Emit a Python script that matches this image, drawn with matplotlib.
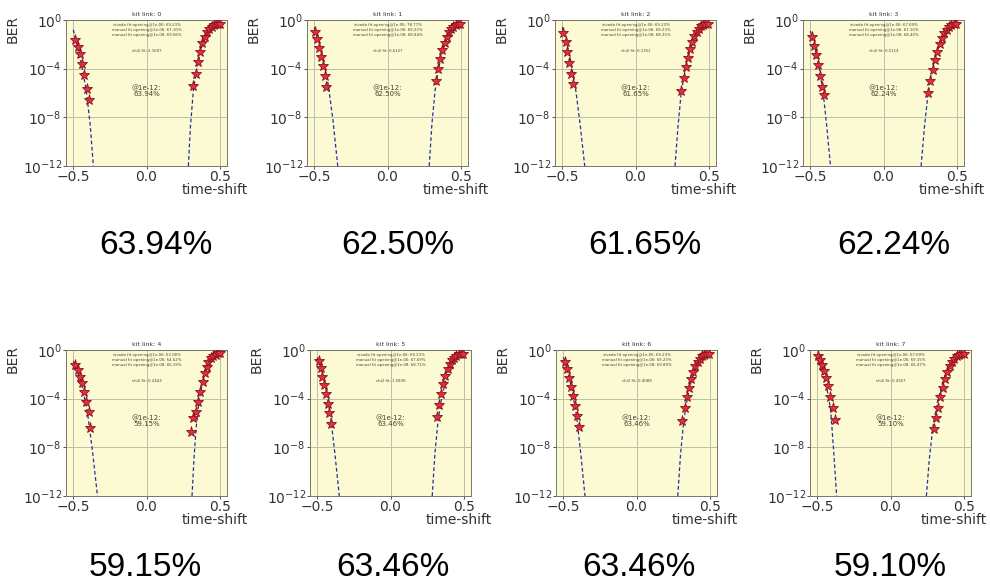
import numpy as np
import matplotlib
matplotlib.use("Agg")
import matplotlib.pyplot as plt

# ---------------- data ----------------
links = [0, 1, 2, 3, 4, 5, 6, 7]
big_labels = ["63.94%", "62.50%", "61.65%", "62.24%", "59.15%", "63.46%", "63.46%", "59.10%"]
open_1e12 = ["63.94%", "62.50%", "61.65%", "62.24%", "59.15%", "63.46%", "63.46%", "59.10%"]
vivado_1e6 = ["69.23%", "78.77%", "69.23%", "67.69%", "63.08%", "69.23%", "69.23%", "67.69%"]
manual_1e6 = ["67.10%", "69.22%", "69.23%", "67.10%", "64.62%", "67.69%", "69.23%", "69.15%"]
manual_1e8 = ["69.66%", "68.84%", "68.35%", "68.40%", "66.19%", "68.71%", "69.89%", "66.47%"]
chi2_fit = ["2.1697", "0.6127", "0.1351", "0.5114", "0.2443", "1.5836", "0.4089", "0.4357"]

# measured points, left edge (x, log10 BER)
left_x = [
    [-0.487, -0.469, -0.454, -0.440, -0.424, -0.408, -0.392],
    [-0.495, -0.482, -0.470, -0.456, -0.443, -0.430, -0.418],
    [-0.492, -0.478, -0.465, -0.451, -0.438, -0.424],
    [-0.487, -0.474, -0.460, -0.446, -0.432, -0.418, -0.405],
    [-0.491, -0.468, -0.455, -0.444, -0.428, -0.410, -0.396, -0.383],
    [-0.490, -0.478, -0.466, -0.454, -0.442, -0.430, -0.418, -0.406],
    [-0.488, -0.474, -0.460, -0.446, -0.432, -0.418, -0.404, -0.390],
    [-0.495, -0.482, -0.468, -0.455, -0.440, -0.425, -0.410, -0.395, -0.380],
]
left_lg = [
    [-1.65, -2.2, -2.8, -3.6, -4.5, -5.7, -6.6],
    [-1.0, -1.6, -2.3, -3.0, -3.8, -4.6, -5.5],
    [-1.1, -1.8, -2.6, -3.5, -4.4, -5.3],
    [-1.4, -2.1, -2.9, -3.7, -4.6, -5.5, -6.2],
    [-1.24, -1.65, -2.2, -2.75, -3.43, -4.26, -5.08, -6.45],
    [-0.9, -1.5, -2.2, -2.9, -3.6, -4.4, -5.2, -6.1],
    [-1.0, -1.6, -2.3, -3.0, -3.8, -4.6, -5.4, -6.3],
    [-0.49, -0.86, -1.24, -1.73, -2.3, -2.96, -3.88, -4.75, -5.76],
]
# measured points, right edge (x, log10 BER)
right_x = [
    [0.317, 0.337, 0.352, 0.367, 0.382, 0.398, 0.414, 0.430, 0.445, 0.460, 0.475, 0.490, 0.500],
    [0.330, 0.345, 0.360, 0.375, 0.390, 0.405, 0.420, 0.435, 0.450, 0.465, 0.480, 0.495],
    [0.312, 0.328, 0.343, 0.358, 0.373, 0.388, 0.403, 0.418, 0.433, 0.448, 0.463, 0.478, 0.493],
    [0.305, 0.320, 0.336, 0.352, 0.368, 0.384, 0.400, 0.416, 0.432, 0.448, 0.464, 0.480, 0.496],
    [0.304, 0.320, 0.338, 0.354, 0.367, 0.383, 0.400, 0.410, 0.423, 0.440, 0.455, 0.473, 0.489, 0.500],
    [0.315, 0.330, 0.345, 0.360, 0.375, 0.390, 0.405, 0.420, 0.435, 0.450, 0.465, 0.480, 0.495],
    [0.312, 0.328, 0.343, 0.358, 0.373, 0.388, 0.403, 0.418, 0.433, 0.448, 0.463, 0.478, 0.493],
    [0.298, 0.312, 0.326, 0.340, 0.356, 0.372, 0.388, 0.404, 0.420, 0.436, 0.452, 0.468, 0.484, 0.500],
]
right_lg = [
    [-5.45, -4.45, -3.45, -2.6, -1.9, -1.4, -1.0, -0.75, -0.55, -0.42, -0.33, -0.3, -0.3],
    [-5.0, -4.0, -3.2, -2.5, -1.9, -1.4, -1.0, -0.75, -0.55, -0.42, -0.34, -0.3],
    [-5.8, -4.8, -3.9, -3.1, -2.4, -1.8, -1.3, -0.95, -0.7, -0.5, -0.38, -0.32, -0.3],
    [-6.0, -5.0, -4.1, -3.3, -2.6, -2.0, -1.5, -1.1, -0.8, -0.58, -0.43, -0.34, -0.3],
    [-6.73, -5.63, -5.08, -4.26, -3.43, -2.6, -1.92, -1.37, -0.96, -0.69, -0.5, -0.41, -0.27, -0.27],
    [-5.5, -4.5, -3.6, -2.8, -2.1, -1.6, -1.15, -0.85, -0.62, -0.46, -0.36, -0.31, -0.3],
    [-5.8, -4.8, -3.9, -3.1, -2.4, -1.8, -1.3, -0.95, -0.7, -0.5, -0.38, -0.32, -0.3],
    [-6.53, -5.6, -4.75, -3.9, -3.1, -2.4, -1.8, -1.3, -0.95, -0.7, -0.5, -0.38, -0.32, -0.3],
]
# fitted curves (x, log10 BER)
fitL_x = [
    [-0.500, -0.470, -0.440, -0.410, -0.385, -0.363],
    [-0.500, -0.470, -0.440, -0.405, -0.372, -0.340],
    [-0.500, -0.470, -0.440, -0.410, -0.378, -0.347],
    [-0.500, -0.470, -0.440, -0.412, -0.388, -0.362],
    [-0.500, -0.470, -0.440, -0.405, -0.370, -0.335],
    [-0.500, -0.470, -0.440, -0.410, -0.380, -0.350],
    [-0.500, -0.470, -0.440, -0.410, -0.380, -0.352],
    [-0.500, -0.470, -0.440, -0.410, -0.390, -0.368],
]
fitL_lg = [
    [-0.8, -2.3, -3.9, -5.9, -8.6, -12.0],
    [-0.6, -1.7, -3.2, -5.3, -8.3, -12.0],
    [-0.6, -1.9, -3.5, -5.6, -8.6, -12.0],
    [-0.9, -2.2, -3.9, -6.0, -8.7, -12.0],
    [-0.9, -1.8, -3.0, -5.0, -8.2, -12.0],
    [-0.6, -1.7, -3.2, -5.4, -8.5, -12.0],
    [-0.6, -1.8, -3.3, -5.4, -8.6, -12.0],
    [-0.3, -1.3, -2.8, -4.8, -8.0, -12.0],
]
fitR_x = [
    [0.286, 0.300, 0.320, 0.345, 0.375, 0.410, 0.450, 0.500],
    [0.285, 0.303, 0.325, 0.350, 0.380, 0.415, 0.455, 0.500],
    [0.270, 0.290, 0.312, 0.340, 0.372, 0.410, 0.450, 0.500],
    [0.257, 0.278, 0.302, 0.330, 0.365, 0.405, 0.450, 0.500],
    [0.311, 0.325, 0.340, 0.360, 0.385, 0.415, 0.455, 0.500],
    [0.285, 0.303, 0.325, 0.350, 0.380, 0.415, 0.455, 0.500],
    [0.282, 0.300, 0.322, 0.348, 0.378, 0.413, 0.453, 0.500],
    [0.245, 0.265, 0.290, 0.320, 0.355, 0.395, 0.445, 0.500],
]
fitR_lg = [
    [-12.0, -8.8, -5.8, -3.9, -2.3, -1.2, -0.55, -0.25],
    [-12.0, -8.6, -5.8, -3.9, -2.4, -1.3, -0.6, -0.25],
    [-12.0, -8.8, -6.0, -4.0, -2.5, -1.35, -0.6, -0.25],
    [-12.0, -9.0, -6.3, -4.2, -2.6, -1.4, -0.6, -0.25],
    [-12.0, -8.8, -6.3, -4.1, -2.5, -1.3, -0.6, -0.25],
    [-12.0, -8.6, -5.8, -3.9, -2.4, -1.3, -0.6, -0.25],
    [-12.0, -8.7, -5.9, -3.9, -2.4, -1.3, -0.6, -0.25],
    [-12.0, -9.0, -6.3, -4.3, -2.7, -1.5, -0.6, -0.25],
]

# ---------------- layout ----------------
W, H = 990, 587
fig = plt.figure(figsize=(W / 100, H / 100), dpi=100)

ax_left_px = [66, 307, 555, 803, 66, 310, 556, 810]
ax_top_px = [20, 20, 20, 20, 350, 350, 350, 350]
ax_w_px, ax_h_px = 161, 146
label_x_px = [156, 398, 645, 894, 145, 393, 639, 890]
label_y_px = [245, 245, 245, 245, 568, 568, 568, 568]
xlabel_xc = [1.13, 1.13, 1.13, 1.13, 1.13, 1.13, 1.13, 1.10]

bg = "#fcfad2"
for i in range(8):
    l = ax_left_px[i] / W
    b = 1 - (ax_top_px[i] + ax_h_px) / H
    ax = fig.add_axes([l, b, ax_w_px / W, ax_h_px / H])
    ax.set_facecolor(bg)
    ax.set_yscale("log")
    ax.plot(fitL_x[i], [10 ** v for v in fitL_lg[i]], ls=(0, (3, 2)), color="#22309a", lw=0.9, zorder=2)
    ax.plot(fitR_x[i], [10 ** v for v in fitR_lg[i]], ls=(0, (3, 2)), color="#22309a", lw=0.9, zorder=2)
    ax.plot(left_x[i], [10 ** v for v in left_lg[i]], ls="none", marker="*", ms=8,
            mfc="#e0303a", mec="#8a1020", mew=0.6, zorder=3)
    ax.plot(right_x[i], [10 ** v for v in right_lg[i]], ls="none", marker="*", ms=8,
            mfc="#e0303a", mec="#8a1020", mew=0.6, zorder=3)
    ax.set_xlim(-0.55, 0.55)
    ax.set_ylim(1e-12, 1)
    ax.set_xticks([-0.5, 0.0, 0.5])
    ax.set_xticklabels(["\u22120.5", "0.0", "0.5"])
    ax.set_yticks([1e-12, 1e-8, 1e-4, 1])
    ax.yaxis.set_minor_locator(matplotlib.ticker.NullLocator())
    ax.tick_params(labelsize=10, length=2, width=0.6, colors="#333333", pad=1)
    ax.grid(True, color="#bdbdae", lw=0.7)
    ax.set_axisbelow(True)
    for s in ax.spines.values():
        s.set_color("#777766")
        s.set_linewidth(0.7)
    ax.set_title(f"kit link: {links[i]}", fontsize=4.5, pad=3, color="#333333")
    ax.text(0.5, 0.93,
            f"vivado fit opening@1e-06: {vivado_1e6[i]}\n"
            f"manual fit opening@1e-06: {manual_1e6[i]}\n"
            f"manual fit opening@1e-08: {manual_1e8[i]}",
            transform=ax.transAxes, ha="center", va="center", fontsize=2.8,
            linespacing=1.3, color="#444433")
    ax.text(0.5, 0.79, f"chi2 fit: {chi2_fit[i]}", transform=ax.transAxes,
            ha="center", va="center", fontsize=2.8, color="#444433")
    ax.text(0.5, 0.515, f"@1e-12:\n{open_1e12[i]}", transform=ax.transAxes,
            ha="center", va="center", fontsize=5, linespacing=1.0, color="#444433")
    ax.set_ylabel("BER", fontsize=10, color="#333333")
    ax.yaxis.set_label_coords(-0.285, 0.94)
    ax.set_xlabel("time-shift", fontsize=10, color="#333333", ha="right")
    ax.xaxis.set_label_coords(xlabel_xc[i], -0.115)
    fig.text(label_x_px[i] / W, 1 - label_y_px[i] / H, big_labels[i],
             fontsize=24, family="Liberation Sans", ha="center", va="center", color="black")

fig.savefig("out.png", dpi=100)
